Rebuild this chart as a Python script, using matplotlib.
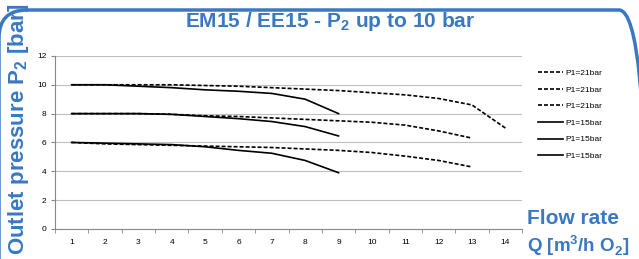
import matplotlib.pyplot as plt
from matplotlib.patches import FancyBboxPatch
from matplotlib.transforms import IdentityTransform

blue = "#3A78C2"
plt.rcParams['font.family'] = ['Liberation Sans', 'DejaVu Sans']

flow = [1, 2, 3, 4, 5, 6, 7, 8, 9, 10, 11, 12, 13, 14]

# P1 = 21 bar (dashed)
p21_10 = [10, 10, 10, 10, 9.95, 9.9, 9.8, 9.7, 9.6, 9.45, 9.3, 9.05, 8.6, 7.0]
p21_8 = [8, 8, 8, 7.95, 7.85, 7.8, 7.7, 7.6, 7.5, 7.4, 7.2, 6.8, 6.3]
p21_6 = [6, 5.9, 5.85, 5.8, 5.75, 5.7, 5.65, 5.55, 5.45, 5.3, 5.05, 4.75, 4.3]

# P1 = 15 bar (solid)
p15_10 = [10, 10, 9.9, 9.8, 9.65, 9.55, 9.4, 9.0, 8.0]
p15_8 = [8, 8, 8, 7.95, 7.8, 7.65, 7.45, 7.1, 6.45]
p15_6 = [6, 5.95, 5.9, 5.85, 5.7, 5.45, 5.25, 4.75, 3.9]

fig = plt.figure(figsize=(6.39, 2.59), dpi=100)
ax = fig.add_axes([0.086, 0.116, 0.731, 0.668])

for s in [p21_10, p21_8, p21_6]:
    ax.plot(flow[:len(s)], s, color='black', lw=1.2, ls=(0, (2.4, 1.2)), label='P1=21bar')
for s in [p15_10, p15_8, p15_6]:
    ax.plot(flow[:len(s)], s, color='black', lw=1.2, label='P1=15bar')

ax.set_xlim(0.5, 14.5)
ax.set_ylim(0, 12)
ax.set_yticks(range(0, 13, 2))
ax.set_xticks(flow)
ax.set_xticks([x + 0.5 for x in range(0, 15)], minor=True)
ax.tick_params(axis='x', which='major', length=0, labelsize=6, pad=7)
ax.tick_params(axis='x', which='minor', length=3, color='#888888')
ax.tick_params(axis='y', length=3, color='#888888', labelsize=6, pad=3)
ax.grid(axis='y', color='#bfbfbf', lw=0.8)
for side in ['top', 'right']:
    ax.spines[side].set_visible(False)
ax.spines['left'].set_color('#888888')
ax.spines['bottom'].set_color('#888888')
ax.set_axisbelow(True)

ax.legend(loc='upper left', bbox_to_anchor=(1.019, 0.966), frameon=False, fontsize=6,
          handlelength=3.0, handletextpad=0.2, labelspacing=1.05)

fig.text(0.517, 0.918, 'EM15 / EE15 - P$_\\mathregular{2}$ up to 10 bar', color=blue,
         fontsize=15, fontweight='bold', ha='center', va='center')
fig.text(0.029, 0.5, 'Outlet pressure P$_\\mathregular{2}$ [bar]', color=blue,
         fontsize=16, fontweight='bold', rotation=90, ha='center', va='center')
fig.text(0.825, 0.155, 'Flow rate', color=blue, fontsize=15, fontweight='bold',
         ha='left', va='center')
fig.text(0.825, 0.05, 'Q [m$^\\mathregular{3}$/h O$_\\mathregular{2}$]', color=blue,
         fontsize=13.5, fontweight='bold', ha='left', va='center')

frame = FancyBboxPatch((-1, -60), 648, 309, boxstyle='round,pad=0,rounding_size=28',
                       transform=IdentityTransform(), fill=False, ec=blue, lw=2.5,
                       clip_on=False)
fig.patches.append(frame)

fig.savefig('out.png', dpi=100)
